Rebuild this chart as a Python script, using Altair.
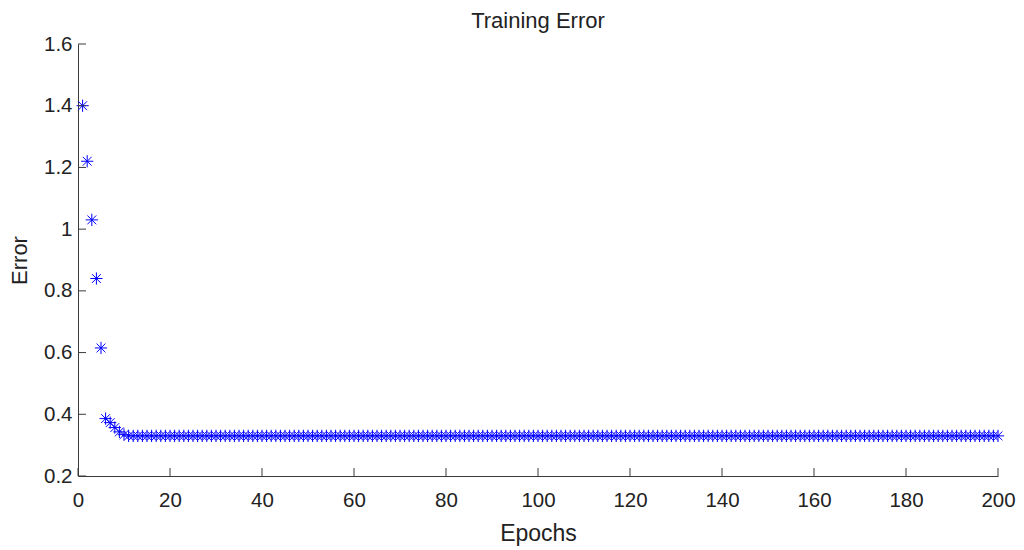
import altair as alt
import pandas as pd

# ---- data ----
epochs = list(range(1, 201))
early_error = [1.40, 1.22, 1.03, 0.84, 0.615, 0.386, 0.373, 0.357, 0.343, 0.334]
plateau_error = [0.33] * 190
error = early_error + plateau_error

x_tick_values = [0, 20, 40, 60, 80, 100, 120, 140, 160, 180, 200]
y_tick_values = [0.2, 0.4, 0.6, 0.8, 1.0, 1.2, 1.4, 1.6]

df = pd.DataFrame({"epoch": epochs, "error": error})
xt = pd.DataFrame({"epoch": x_tick_values})
yt = pd.DataFrame({"error": y_tick_values})

W, H = 920, 432
FONT = "Liberation Sans"
AXC = "#3a3a3a"
TXT = "#222222"
TICK = 8

xscale = alt.Scale(domain=[0, 200], nice=False, zero=False)
yscale = alt.Scale(domain=[0.2, 1.6], nice=False, zero=False)

xaxis = alt.Axis(values=x_tick_values, ticks=False, grid=False,
                 labelPadding=14, titlePadding=12, labelFontSize=20.5,
                 titleFontSize=23, labelFlush=False)
yaxis = alt.Axis(values=y_tick_values, ticks=False, grid=False,
                 labelPadding=6, titlePadding=12, labelFontSize=20.5,
                 titleFontSize=22, format="~g", labelFlush=False)

asterisk = "M-1,0L1,0M0,-1L0,1M-0.72,-0.72L0.72,0.72M-0.72,0.72L0.72,-0.72"

points = alt.Chart(df).mark_point(
    shape=asterisk, filled=False, stroke="#0000ff", strokeWidth=1,
    size=150, opacity=1, clip=False
).encode(
    x=alt.X("epoch:Q", scale=xscale, title="Epochs", axis=xaxis),
    y=alt.Y("error:Q", scale=yscale, title="Error", axis=yaxis),
)

xticks = alt.Chart(xt).mark_rule(color=AXC, strokeWidth=1).encode(
    x=alt.X("epoch:Q", scale=xscale, title="Epochs", axis=xaxis),
    y=alt.value(H),
    y2=alt.value(H - TICK),
)

yticks = alt.Chart(yt).mark_rule(color=AXC, strokeWidth=1).encode(
    y=alt.Y("error:Q", scale=yscale, title="Error", axis=yaxis),
    x=alt.value(0),
    x2=alt.value(TICK),
)

chart = alt.layer(points, xticks, yticks).properties(
    width=W, height=H,
    background="white",
    title=alt.TitleParams("Training Error", fontSize=22, font=FONT,
                          fontWeight="normal", color=TXT, offset=1,
                          frame="group"),
    autosize=alt.AutoSizeParams(type="none"),
    padding={"left": 70, "top": 36, "right": 18, "bottom": 70},
).configure_view(strokeWidth=0, stroke="transparent").configure_axis(
    domainColor=AXC, domainWidth=1, labelFont=FONT, titleFont=FONT,
    labelColor=TXT, titleColor=TXT, titleFontWeight="normal",
)

chart.save("out.html", embed_options={"renderer": "svg", "actions": False})
